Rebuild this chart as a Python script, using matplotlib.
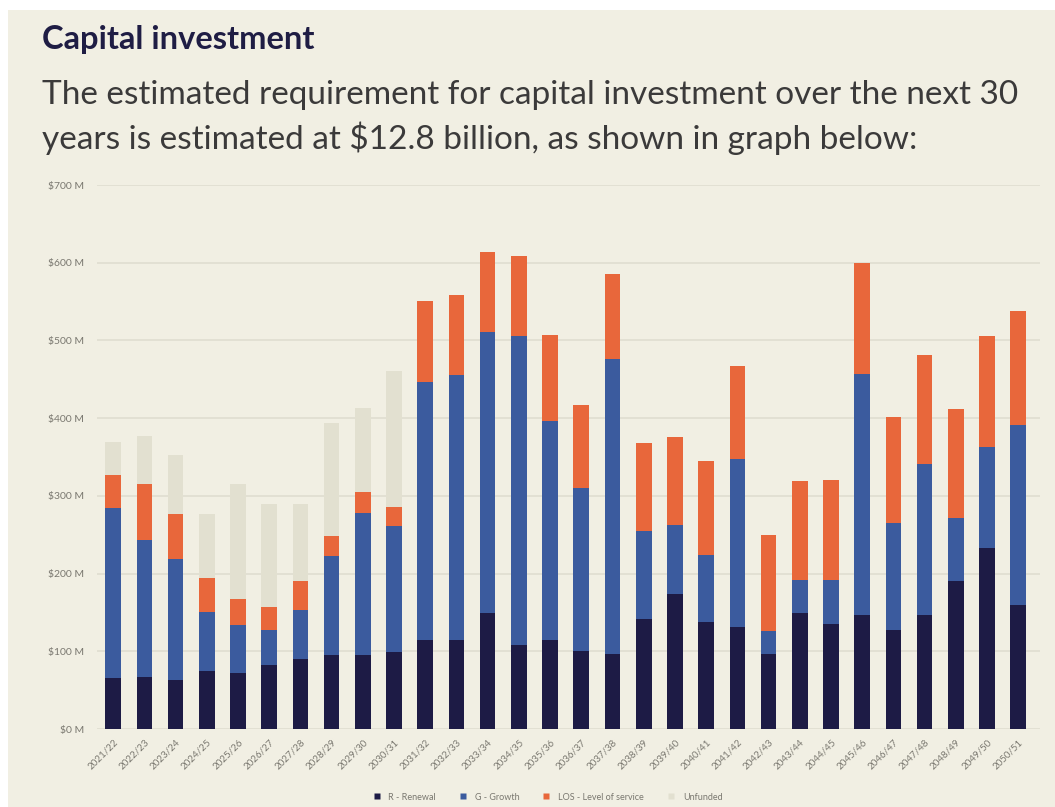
import matplotlib
matplotlib.use("Agg")
import matplotlib.pyplot as plt
from matplotlib.patches import Rectangle
from matplotlib.lines import Line2D
import numpy as np

# Financial years
years = ["2021/22", "2022/23", "2023/24", "2024/25", "2025/26", "2026/27", "2027/28",
         "2028/29", "2029/30", "2030/31", "2031/32", "2032/33", "2033/34", "2034/35",
         "2035/36", "2036/37", "2037/38", "2038/39", "2039/40", "2040/41", "2041/42",
         "2042/43", "2043/44", "2044/45", "2045/46", "2046/47", "2047/48", "2048/49",
         "2049/50", "2050/51"]

# Investment by category ($M)
renewal = [66, 67, 63, 74, 72, 82, 90, 95, 95, 99, 115, 115, 149, 108, 115, 101, 96,
           142, 174, 138, 131, 97, 149, 135, 147, 128, 147, 191, 233, 159]
growth = [218, 176, 156, 77, 62, 45, 63, 128, 183, 162, 332, 341, 362, 398, 281, 209,
          380, 113, 88, 86, 217, 29, 43, 57, 310, 137, 194, 80, 130, 232]
level_of_service = [43, 72, 58, 43, 33, 30, 37, 25, 27, 25, 104, 102, 103, 103, 111,
                    107, 110, 113, 114, 121, 119, 123, 127, 129, 142, 136, 140, 141,
                    143, 147]
unfunded = [42, 62, 76, 83, 148, 133, 100, 146, 108, 175, 0, 0, 0, 0, 0, 0, 0, 0, 0,
            0, 0, 0, 0, 0, 0, 0, 0, 0, 0, 0]

y_ticks = [0, 100, 200, 300, 400, 500, 600, 700]
y_tick_labels = ["$0 M", "$100 M", "$200 M", "$300 M", "$400 M", "$500 M", "$600 M", "$700 M"]

series_names = ["R - Renewal", "G - Growth", "LOS - Level of service", "Unfunded"]
colors = ["#1d1b45", "#3b5b9e", "#e8673b", "#e2e0d0"]

BG = "#f1efe3"
TITLE = "#1f1d44"
TEXT = "#3b3a3a"
TICK = "#7a7870"

plt.rcParams["font.family"] = ["Lato", "DejaVu Sans"]

fig = plt.figure(figsize=(10.55, 8.07), dpi=100, facecolor="white")
fig.patches.append(Rectangle((8 / 1055, 0), 1, (807 - 10) / 807,
                             transform=fig.transFigure, facecolor=BG,
                             edgecolor="none", zorder=-10))

fig.text(42 / 1055, 1 - 40 / 807, "Capital investment", fontsize=23.5, fontweight="bold",
         color=TITLE, va="center", ha="left")
fig.text(42 / 1055, 1 - 95 / 807,
         "The estimated requirement for capital investment over the next 30",
         fontsize=24, color=TEXT, va="center", ha="left")
fig.text(42 / 1055, 1 - 138 / 807,
         "years is estimated at $12.8 billion, as shown in graph below:",
         fontsize=24, color=TEXT, va="center", ha="left")

ax = fig.add_axes([97 / 1055, (807 - 729) / 807, (1040 - 97) / 1055, (729 - 185) / 807])
ax.set_facecolor("none")

x = np.arange(len(years))
width = 0.5
bottom = np.zeros(len(years))
for vals, c in zip([renewal, growth, level_of_service, unfunded], colors):
    vals = np.array(vals, dtype=float)
    ax.bar(x, vals, width, bottom=bottom, color=c, zorder=3, linewidth=0)
    bottom += vals

ax.set_ylim(0, 700)
ax.set_xlim(-0.52, 29.7)
ax.set_yticks(y_ticks)
ax.set_yticklabels(y_tick_labels, fontsize=7.5, color=TICK)
ax.set_xticks(x)
ax.set_xticklabels(years, fontsize=7, color=TICK, rotation=45, ha="right",
                   va="top", rotation_mode="anchor")
ax.tick_params(axis="both", length=0)
ax.tick_params(axis="y", pad=9)
ax.tick_params(axis="x", pad=6)
ax.grid(axis="y", color="#e0ddd0", linewidth=1.2, zorder=0)
for s in ax.spines.values():
    s.set_visible(False)

handles = [Line2D([0], [0], marker="s", linestyle="none", markersize=5,
                  markerfacecolor=c, markeredgecolor="none") for c in colors]
fig.legend(handles, series_names, loc="center", bbox_to_anchor=(545 / 1055, 10 / 807),
           ncol=4, frameon=False, fontsize=6.5, labelcolor=TICK, handletextpad=0.3,
           columnspacing=2.0)

fig.savefig("out.png", dpi=100, facecolor="white")
